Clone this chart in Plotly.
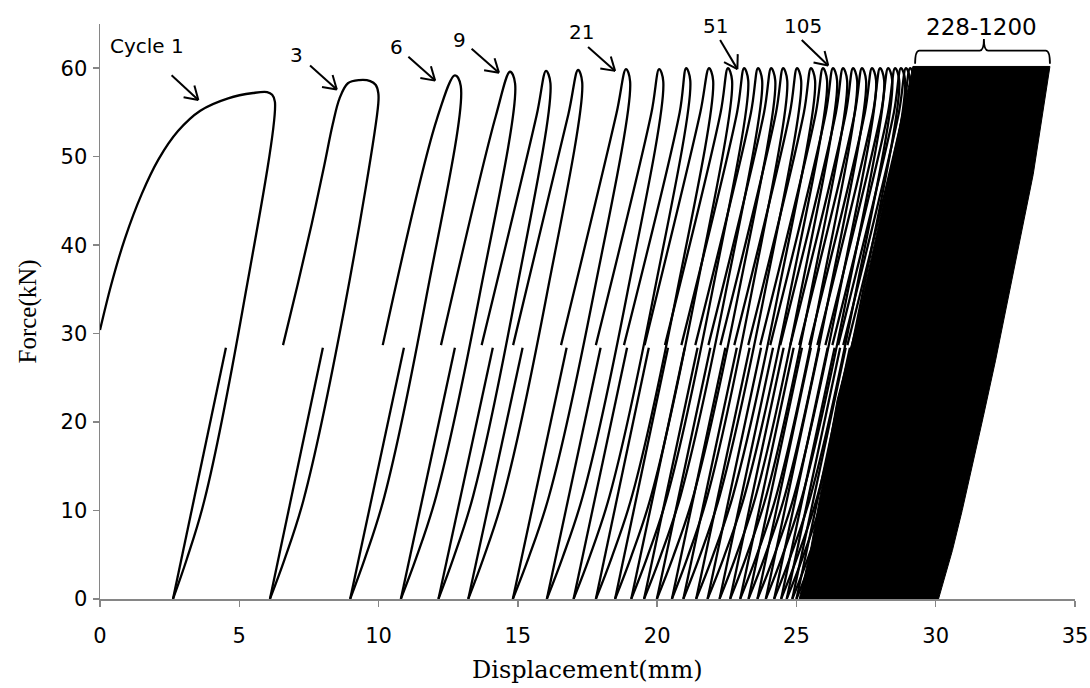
import math
import plotly.graph_objects as go

# ---------------- data ----------------
# cycle 1 and cycle 3 loading branches (upper part)
c1_load_x = [0.0, 0.40, 0.90, 1.50, 2.10, 2.80, 3.60, 4.60, 5.50, 6.00, 6.18]
c1_load_f = [30.4, 35.5, 40.8, 45.8, 49.7, 52.9, 55.2, 56.6, 57.2, 57.3, 57.0]
c3_load_x = [6.57, 7.10, 7.60, 8.05, 8.35, 8.60, 8.90, 9.30, 9.70, 9.90, 9.99]
c3_load_f = [28.7, 35.6, 42.4, 49.0, 53.6, 56.6, 58.3, 58.65, 58.55, 58.1, 57.2]

# one entry per plotted loop (first two loops use the explicit branches above)
start_x = [0.0, 6.57, 10.15, 12.24, 13.70, 14.83, 16.55, 17.80, 18.81, 19.55,
           20.28, 20.87, 21.37, 21.84, 22.27, 22.77, 23.27, 23.70, 24.06, 24.42,
           24.78, 25.10, 25.46, 25.75, 26.04, 26.29, 26.50, 26.68, 26.83]
start_f = [30.4] + [28.7] * 28
peak_x = [5.86, 9.21, 12.74, 14.72, 16.01, 17.16, 18.88, 20.07, 21.04, 21.86,
          22.54, 23.12, 23.62, 24.09, 24.52, 25.02, 25.52, 25.95, 26.31, 26.67,
          27.03, 27.35, 27.71, 28.00, 28.29, 28.54, 28.75, 28.93, 29.08]
peak_f = [57.3, 58.6, 59.2, 59.6, 59.7, 59.8, 59.9, 59.9, 60.0, 60.0,
          60.0, 60.0, 60.0, 60.0, 60.0, 60.0, 60.0, 60.0, 60.0, 60.0,
          60.0, 60.0, 60.0, 60.0, 60.0, 60.0, 60.0, 60.0, 60.0]
unload_x = [6.28, 9.99, 12.95, 14.90, 16.17, 17.31, 19.03, 20.22, 21.19, 22.01,
            22.69, 23.27, 23.77, 24.24, 24.67, 25.17, 25.67, 26.10, 26.46, 26.82,
            27.18, 27.50, 27.86, 28.15, 28.44, 28.69, 28.90, 29.08, 29.23]
unload_f = [56.2, 56.0, 58.0, 58.3, 58.3, 58.4, 58.5, 58.5, 58.6, 58.6,
            58.6, 58.6, 58.6, 58.6, 58.6, 58.6, 58.6, 58.6, 58.6, 58.6,
            58.6, 58.6, 58.6, 58.6, 58.6, 58.6, 58.6, 58.6, 58.6]
valley_x = [2.62, 6.10, 8.98, 10.80, 12.15, 13.22, 14.82, 16.04, 17.00, 17.80,
            18.49, 19.07, 19.53, 19.99, 20.53, 20.94, 21.40, 21.81, 22.24, 22.62,
            22.98, 23.28, 23.60, 23.90, 24.20, 24.45, 24.65, 24.85, 25.00]
reload_x = [4.52, 8.00, 10.91, 12.74, 14.10, 15.17, 16.75, 17.97, 18.92, 19.70,
            20.39, 20.99, 21.45, 21.91, 22.45, 22.86, 23.32, 23.73, 24.16, 24.54,
            24.90, 25.20, 25.52, 25.82, 26.12, 26.37, 26.57, 26.77, 26.92]
reload_f = 28.4

# unloading profile (fraction of force -> fraction of displacement above valley)
unl_frac_f = [0.59, 0.20, 0.08]
unl_frac_x = [0.69, 0.31, 0.135]

# cycles 228-1200: merged into a solid band
band_x = [25.10, 25.50, 26.46, 27.20, 29.18, 34.10, 33.50, 32.60, 32.15, 31.70, 31.30, 30.95, 30.60, 30.35, 30.10]
band_f = [0.0, 5.5, 22.5, 31.5, 60.2, 60.2, 48.0, 33.8, 27.0, 20.5, 14.9, 10.0, 5.5, 2.6, 0.0]

x_ticks = [0, 5, 10, 15, 20, 25, 30, 35]
y_ticks = [0, 10, 20, 30, 40, 50, 60]

# ---------------- build the loop paths ----------------
xs, ys = [], []
for i in range(len(peak_x)):
    if i == 0:
        px, py = list(c1_load_x), list(c1_load_f)
    elif i == 1:
        px, py = list(c3_load_x), list(c3_load_f)
    else:
        knee_f = peak_f[i] - 5.0
        knee_x = start_x[i] + 0.076 * (knee_f - start_f[i])
        px = [start_x[i], knee_x, peak_x[i]]
        py = [start_f[i], knee_f, peak_f[i]]
    px.append(unload_x[i]); py.append(unload_f[i])
    d = unload_x[i] - valley_x[i]
    for ff, fx in zip(unl_frac_f, unl_frac_x):
        px.append(valley_x[i] + fx * d); py.append(ff * unload_f[i])
    px.append(valley_x[i]); py.append(0.0)
    xs += px + [None]; ys += py + [None]
    xs += [valley_x[i], reload_x[i], None]
    ys += [0.0, reload_f, None]

fig = go.Figure()
fig.add_trace(go.Scatter(x=band_x, y=band_f, mode="lines", fill="toself",
                         fillcolor="black", line=dict(color="black", width=1),
                         hoverinfo="skip", showlegend=False))
fig.add_trace(go.Scatter(x=xs, y=ys, mode="lines", connectgaps=False,
                         line=dict(color="black", width=2.3, shape="spline", smoothing=1.0),
                         hoverinfo="skip", showlegend=False))

# ---------------- layout ----------------
W, H = 1090, 688
ml, mr, mt, mb = 100, 15, 24, 89
XR, YR = [0, 35], [0, 65]
pw, ph = W - ml - mr, H - mt - mb

def to_px(x, y):
    return (ml + (x - XR[0]) / (XR[1] - XR[0]) * pw, mt + ph - (y - YR[0]) / (YR[1] - YR[0]) * ph)

def to_data(u, v):
    return (XR[0] + (u - ml) / pw * (XR[1] - XR[0]), YR[0] + (mt + ph - v) / ph * (YR[1] - YR[0]))

labels = [("Cycle 1", 1.68, 62.5, 20), ("3", 7.06, 61.5, 20), ("6", 10.65, 62.4, 20), ("9", 12.92, 63.2, 20),
          ("21", 17.29, 64.1, 20), ("51", 22.08, 64.8, 20), ("105", 25.24, 64.8, 20),
          ("228-1200", 31.65, 64.7, 23)]
arrows = [((2.57, 59.2), (3.53, 56.4)), ((7.54, 60.3), (8.50, 57.6)), ((11.07, 61.3), (12.03, 58.6)),
          ((13.34, 62.2), (14.32, 59.5)), ((17.52, 62.4), (18.49, 59.7)), ((22.26, 63.2), (22.88, 59.9)),
          ((25.19, 63.2), (26.14, 60.3))]

annotations = [dict(x=x, y=y, text=t, showarrow=False, xref="x", yref="y",
                    font=dict(family="DejaVu Sans, sans-serif", size=s, color="black"))
               for t, x, y, s in labels]
# axis titles
annotations.append(dict(x=0.5, y=0, xref="paper", yref="paper", yanchor="middle", yshift=-71,
                        text="Displacement(mm)", showarrow=False,
                        font=dict(family="DejaVu Serif, serif", size=24, color="black")))
annotations.append(dict(x=0, y=0.5, xref="paper", yref="paper", xanchor="center", xshift=-73,
                        text="Force(kN)", showarrow=False, textangle=-90,
                        font=dict(family="Liberation Serif, Times New Roman, serif", size=25, color="black")))

shapes = []
line_style = dict(color="black", width=2)
for (tx, ty), (hx, hy) in arrows:
    shapes.append(dict(type="line", x0=tx, y0=ty, x1=hx, y1=hy, xref="x", yref="y", line=line_style))
    tu, tv = to_px(tx, ty); hu, hv = to_px(hx, hy)
    ang = math.atan2(tv - hv, tu - hu)
    for s in (-1, 1):
        a = ang + s * math.radians(32)
        eu, ev = hu + 15 * math.cos(a), hv + 15 * math.sin(a)
        ex, ey = to_data(eu, ev)
        shapes.append(dict(type="line", x0=hx, y0=hy, x1=ex, y1=ey, xref="x", yref="y", line=line_style))

# bracket over cycles 228-1200
bl, br, bc = 29.26, 34.10, 31.73
yb, yt, ys_ = 60.5, 62.0, 63.3
r = 0.15
path = (f"M {bl},{yb} Q {bl},{yt} {bl + r},{yt} L {bc - r},{yt} Q {bc},{yt} {bc},{ys_} "
        f"Q {bc},{yt} {bc + r},{yt} L {br - r},{yt} Q {br},{yt} {br},{yb}")
shapes.append(dict(type="path", path=path, xref="x", yref="y", line=dict(color="black", width=1.8)))

axis_common = dict(showgrid=False, zeroline=False, showline=True, linecolor="#868686", linewidth=1.5,
                   ticks="outside", ticklen=6, tickcolor="#868686", tickwidth=1.5, automargin=False,
                   tickfont=dict(family="DejaVu Sans, sans-serif", size=21, color="black"))
fig.update_layout(
    width=W, height=H, margin=dict(l=ml, r=mr, t=mt, b=mb, autoexpand=False),
    paper_bgcolor="white", plot_bgcolor="white",
    annotations=annotations, shapes=shapes,
    xaxis=dict(range=XR, tickvals=x_ticks, ticklabelstandoff=11, **axis_common),
    yaxis=dict(range=YR, tickvals=y_ticks, ticklabelstandoff=1, **axis_common),
)
fig.write_html("out.html", config={"displayModeBar": False, "staticPlot": True},
               post_script="document.body.style.margin='0';document.documentElement.style.overflow='hidden';")
